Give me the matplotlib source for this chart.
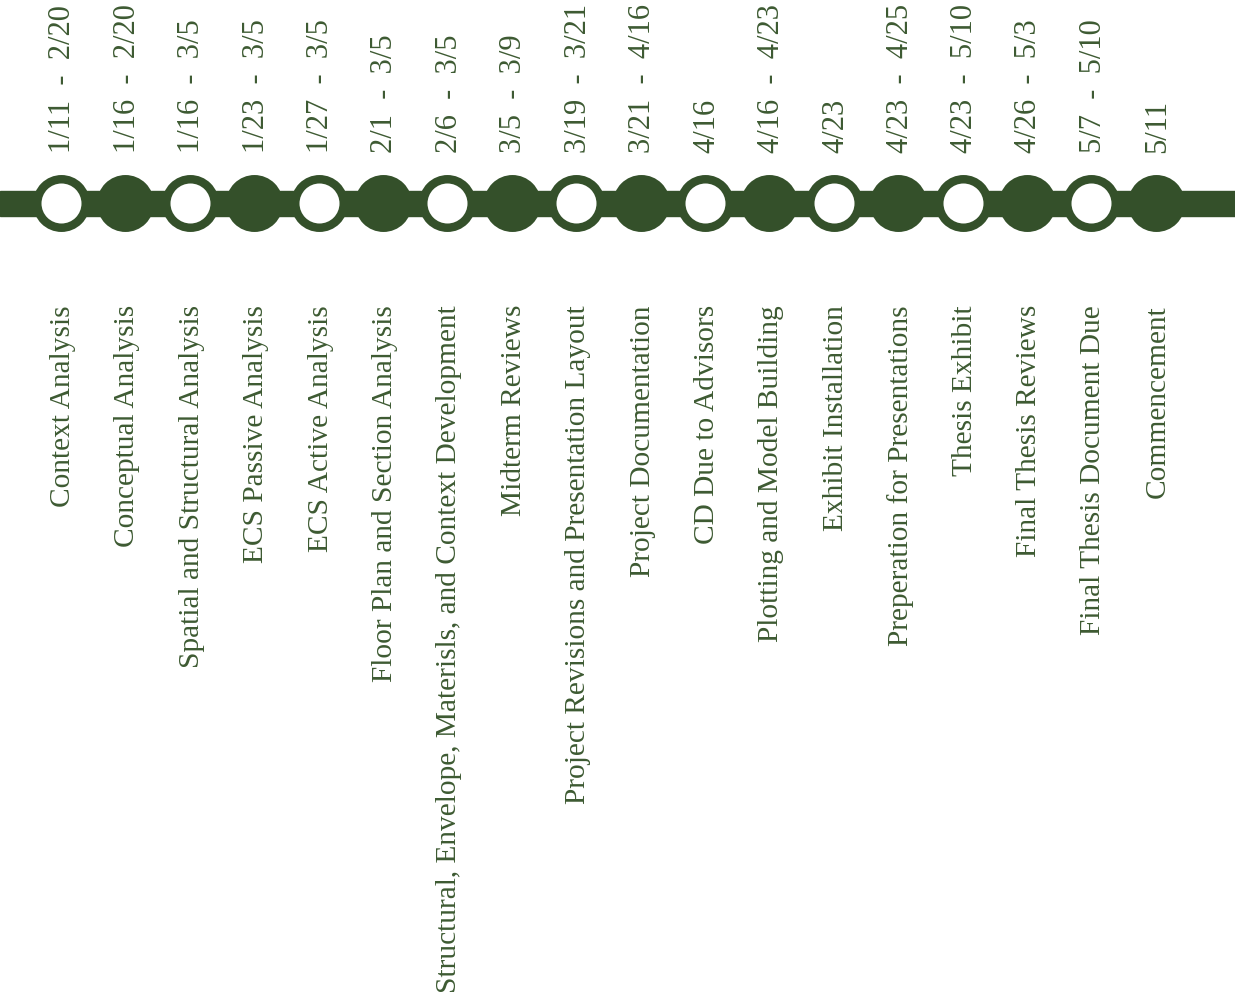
import numpy as np
import matplotlib.pyplot as plt

# Timeline data
dates = ["1/11 - 2/20", "1/16 - 2/20", "1/16 - 3/5", "1/23 - 3/5", "1/27 - 3/5",
         "2/1 - 3/5", "2/6 - 3/5", "3/5 - 3/9", "3/19 - 3/21", "3/21 - 4/16",
         "4/16", "4/16 - 4/23", "4/23", "4/23 - 4/25", "4/23 - 5/10",
         "4/26 - 5/3", "5/7 - 5/10", "5/11"]
tasks = ["Context Analysis", "Conceptual Analysis", "Spatial and Structural Analysis",
         "ECS Passive Analysis", "ECS Active Analysis", "Floor Plan and Section Analysis",
         "Structural, Envelope, Materisls, and Context Development", "Midterm Reviews",
         "Project Revisions and Presentation Layout", "Project Documentation",
         "CD Due to Advisors", "Plotting and Model Building", "Exhibit Installation",
         "Preperation for Presentations", "Thesis Exhibit", "Final Thesis Reviews",
         "Final Thesis Document Due", "Commencement"]
hollow = [True, False] * 9

green = "#34502a"
text_green = "#3d5a32"

x = np.arange(len(tasks))
line_y = 204

fig = plt.figure(figsize=(12.35, 10.03), dpi=100)
ax = fig.add_axes([0, 0, 1, 1])
ax.set_xlim(-0.947, 18.23)
ax.set_ylim(1003, 0)
ax.axis("off")

# main bar
ax.axhspan(line_y - 12.5, line_y + 12.5, color=green, zorder=1)

# nodes
ax.scatter(x, [line_y] * len(x), s=41 ** 2, color=green, zorder=2, linewidths=0)
hx = x[np.array(hollow)]
ax.scatter(hx, [line_y] * len(hx), s=28.8 ** 2, color="white", zorder=3, linewidths=0)

for i in x:
    # the original has wide gaps around the dash
    ax.text(i + 0.03, 153, dates[i].replace(" - ", "  -  "), rotation=90,
            ha="center", va="bottom", fontsize=22, color=text_green,
            family="Liberation Serif")
    ax.text(i + 0.03, 305, tasks[i], rotation=90, ha="center", va="top",
            fontsize=21.2, color=text_green, family="Liberation Serif")

fig.savefig("out.png", dpi=100, facecolor="white")
